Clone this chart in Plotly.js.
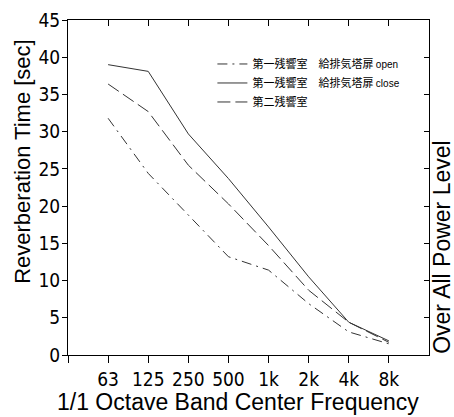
<!DOCTYPE html>
<html><head><meta charset="utf-8">
<script src="https://cdn.plot.ly/plotly-3.0.1.min.js"></script>
<style>html,body{margin:0;padding:0;background:#fff;}#chart{width:454px;height:417px;}</style>
</head><body><div id="chart"></div>
<script>
const bands = ['63','125','250','500','1k','2k','4k','8k'];
const bandPos = [1,2,3,4,5,6,7,8];
const openVals  = [31.8, 24.4, 18.8, 13.2, 11.4, 6.9, 3.1, 1.5];
const closeVals = [39.0, 38.1, 29.7, 23.7, 17.2, 10.5, 4.4, 1.9];
const room2Vals = [36.4, 32.7, 25.5, 20.3, 14.7, 8.7, 4.4, 1.7];
const seriesNames = [
  '第一残響室　給排気塔扉 <span style="font-family:Liberation Sans;font-size:10px">open</span>',
  '第一残響室　給排気塔扉 <span style="font-family:Liberation Sans;font-size:10px">close</span>',
  '第二残響室'
];
const yTicks = [0,5,10,15,20,25,30,35,40,45];
const xTitle = '1/1 Octave Band Center Frequency';
const yTitle = 'Reverberation Time [sec]';
const y2Title = 'Over All Power Level';

const tickFont = {family:'DejaVu Sans Condensed, sans-serif', size:19, color:'#000'};
const titleFamily = 'Liberation Sans, Arial, sans-serif';

const traces = [
  {x:bandPos, y:openVals, name:seriesNames[0], mode:'lines', line:{color:'#333', width:1, dash:'10px,5px,2px,5px'}},
  {x:bandPos, y:closeVals, name:seriesNames[1], mode:'lines', line:{color:'#333', width:1}},
  {x:bandPos, y:room2Vals, name:seriesNames[2], mode:'lines', line:{color:'#333', width:1, dash:'13px,5px'}},
  {x:bandPos, y:openVals, xaxis:'x2', yaxis:'y2', mode:'lines', line:{width:0, color:'rgba(0,0,0,0)'}, showlegend:false, hoverinfo:'skip'}
];

const layout = {
  width:454, height:417,
  margin:{l:68, r:25, t:20, b:62},
  paper_bgcolor:'#fff', plot_bgcolor:'#fff',
  showlegend:true,
  legend:{x:0.40, y:0.912, xanchor:'left', yanchor:'top', bgcolor:'rgba(0,0,0,0)',
          font:{family:'Noto Sans CJK JP, sans-serif', size:11, color:'#000'}, tracegroupgap:0},
  xaxis:{range:[0,9], tickmode:'array', tickvals:[0].concat(bandPos), ticktext:[''].concat(bands),
         showline:true, linecolor:'#000', linewidth:1, ticks:'outside', ticklen:7, tickcolor:'#000',
         showgrid:false, zeroline:false, tickfont:tickFont},
  yaxis:{range:[0,45], tickmode:'array', tickvals:yTicks, showline:true, linecolor:'#000', linewidth:1,
         ticks:'outside', ticklen:5, tickcolor:'#000', showgrid:false, zeroline:false, tickfont:tickFont,
         ticklabelstandoff:-2},
  xaxis2:{overlaying:'x', side:'top', anchor:'y2', range:[0,9], tickmode:'array', tickvals:bandPos,
          showticklabels:false, ticks:'inside', ticklen:6, tickcolor:'#000', showline:true, linecolor:'#000',
          showgrid:false, zeroline:false},
  yaxis2:{overlaying:'y', side:'right', anchor:'x2', range:[0,45], tickmode:'array', tickvals:yTicks,
          showticklabels:false, ticks:'inside', ticklen:5, tickcolor:'#000', showline:true, linecolor:'#000',
          showgrid:false, zeroline:false},
  annotations:[
    {text:xTitle, xref:'paper', yref:'paper', x:0.472, y:-0.141, xanchor:'center', yanchor:'middle',
     showarrow:false, font:{family:titleFamily, size:23, color:'#000'}},
    {text:yTitle, xref:'paper', yref:'paper', x:-0.128, y:0.579, xanchor:'center', yanchor:'middle',
     textangle:-90, showarrow:false, font:{family:titleFamily, size:22, color:'#000'}},
    {text:y2Title, xref:'paper', yref:'paper', x:1.037, y:0.321, xanchor:'center', yanchor:'middle',
     textangle:-90, showarrow:false, font:{family:titleFamily, size:23, color:'#000'}}
  ]
};
Plotly.newPlot('chart', traces, layout, {displayModeBar:false, staticPlot:true});
</script></body></html>
